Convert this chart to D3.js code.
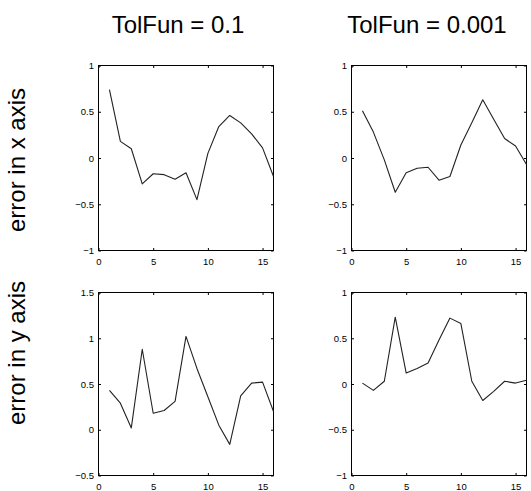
<!DOCTYPE html>
<html>
<head>
<meta charset="utf-8">
<script src="https://cdn.jsdelivr.net/npm/d3@7"></script>
<style>
  html, body { margin: 0; padding: 0; background: #fff; }
  svg { display: block; }
</style>
</head>
<body>
<svg id="chart" width="531" height="491"></svg>
<script>
// ---- data ----
const xIndex = [1,2,3,4,5,6,7,8,9,10,11,12,13,14,15,16];
const errXTol01  = [0.74, 0.18, 0.10, -0.28, -0.17, -0.18, -0.23, -0.16, -0.45, 0.05, 0.34, 0.46, 0.38, 0.26, 0.11, -0.20];
const errXTol001 = [0.51, 0.28, -0.02, -0.37, -0.16, -0.11, -0.10, -0.24, -0.20, 0.14, 0.38, 0.63, 0.42, 0.21, 0.13, -0.07];
const errYTol01  = [0.43, 0.29, 0.02, 0.88, 0.18, 0.21, 0.31, 1.02, 0.67, 0.36, 0.05, -0.16, 0.37, 0.51, 0.52, 0.20];
const errYTol001 = [0.01, -0.07, 0.03, 0.73, 0.12, 0.17, 0.23, 0.48, 0.72, 0.66, 0.03, -0.18, -0.08, 0.03, 0.01, 0.04];
const columnTitles = ["TolFun = 0.1", "TolFun = 0.001"];
const rowTitles = ["error in x axis", "error in y axis"];
const xTicks = [0, 5, 10, 15];
const yTicksA = [-1, -0.5, 0, 0.5, 1];
const yTicksB = [-0.5, 0, 0.5, 1, 1.5];

// ---- layout ----
const svg = d3.select("#chart");
const colX = [[98.5, 273.5], [351.5, 526.5]];
const rowY = [[65.5, 250.5], [292.5, 475.5]];
const panels = [
  { r: 0, c: 0, values: errXTol01,  yDom: [-1, 1],    yTicks: yTicksA },
  { r: 0, c: 1, values: errXTol001, yDom: [-1, 1],    yTicks: yTicksA },
  { r: 1, c: 0, values: errYTol01,  yDom: [-0.5, 1.5], yTicks: yTicksB },
  { r: 1, c: 1, values: errYTol001, yDom: [-1, 1],    yTicks: yTicksA }
];
const tickFont = "Liberation Sans, Arial, sans-serif";
const fmt = v => (v === 0 ? "0" : d3.format("")(v));

panels.forEach(p => {
  const [x0, x1] = colX[p.c];
  const [y0, y1] = rowY[p.r];
  const x = d3.scaleLinear().domain([0, 16]).range([x0, x1]);
  const y = d3.scaleLinear().domain(p.yDom).range([y1, y0]);
  const g = svg.append("g");

  // box
  g.append("rect")
    .attr("x", x0).attr("y", y0)
    .attr("width", x1 - x0).attr("height", y1 - y0)
    .attr("fill", "none").attr("stroke", "#000").attr("stroke-width", 1);

  // axes (ticks inward on all sides)
  const tl = 2.5;
  const bottom = g.append("g").attr("transform", `translate(0,${y1})`)
    .call(d3.axisBottom(x).tickValues(xTicks).tickSize(-tl).tickPadding(8).tickFormat(fmt));
  const top = g.append("g").attr("transform", `translate(0,${y0})`)
    .call(d3.axisTop(x).tickValues(xTicks).tickSize(-tl).tickFormat(""));
  const left = g.append("g").attr("transform", `translate(${x0},0)`)
    .call(d3.axisLeft(y).tickValues(p.yTicks).tickSize(-tl).tickPadding(4.5).tickFormat(fmt));
  const right = g.append("g").attr("transform", `translate(${x1},0)`)
    .call(d3.axisRight(y).tickValues(p.yTicks).tickSize(-tl).tickFormat(""));
  [bottom, top, left, right].forEach(a => {
    a.select(".domain").remove();
    a.selectAll(".tick line").attr("stroke", "#000");
    a.selectAll(".tick text").attr("fill", "#000")
      .style("font-family", tickFont).style("font-size", "9.5px");
  });

  // data line
  const line = d3.line().x((d, i) => x(xIndex[i])).y(d => y(d));
  g.append("path")
    .datum(p.values)
    .attr("d", line)
    .attr("fill", "none")
    .attr("stroke", "#222")
    .attr("stroke-width", 1.1)
    .attr("stroke-linejoin", "round");
});

// column titles
const titleX = [178, 427];
columnTitles.forEach((t, i) => {
  svg.append("text")
    .attr("x", titleX[i]).attr("y", 33)
    .attr("text-anchor", "middle")
    .style("font-family", tickFont).style("font-size", "24px")
    .attr("fill", "#000")
    .text(t);
});

// row titles
const rowCenterY = [160, 353];
rowTitles.forEach((t, i) => {
  svg.append("text")
    .attr("transform", `translate(25,${rowCenterY[i]}) rotate(-90)`)
    .attr("text-anchor", "middle")
    .style("font-family", tickFont).style("font-size", "24px")
    .attr("fill", "#000")
    .text(t);
});
</script>
</body>
</html>
